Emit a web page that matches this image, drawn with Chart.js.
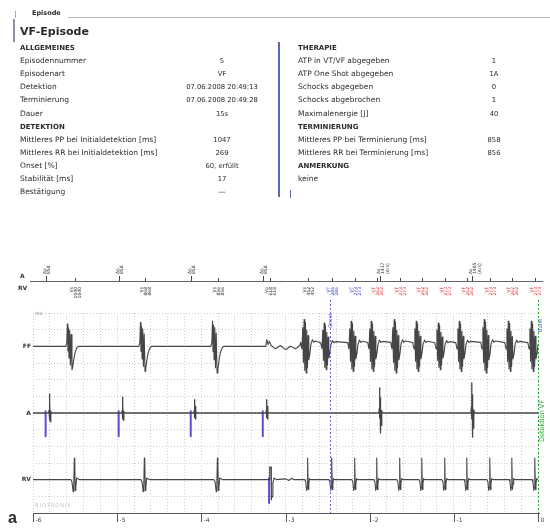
<!DOCTYPE html>
<html>
<head>
<meta charset="utf-8">
<script src="https://cdn.jsdelivr.net/npm/chart.js@4/dist/chart.umd.min.js"></script>
<style>
  body { margin: 0; width: 550px; height: 529px; background: #fff; position: relative; overflow: hidden;
         font-family: "DejaVu Sans", sans-serif; color: #2b2b2b; }
  #ekg { position: absolute; left: 0; top: 0; }
  .t { position: absolute; white-space: nowrap; line-height: 10px; font-size: 7.5px; }
  .b { font-weight: bold; font-size: 7px; }
  .w { text-align: center; width: 110px; font-size: 6.8px; }
  .strich { position: absolute; }
</style>
</head>
<body>
<canvas id="ekg" width="550" height="529"></canvas>

<div class="strich" style="left:15px;top:11px;width:1px;height:7px;background:#aaa"></div>
<div class="strich" style="left:68px;top:17px;width:482px;height:1px;background:#bbb"></div>
<div class="t b" style="left:32px;top:8px;font-size:6.5px">Episode</div>
<div class="strich" style="left:13px;top:19px;width:2px;height:23px;background:#8a90a8"></div>
<div class="t" style="left:20px;top:25px;font-size:11px;font-weight:bold;line-height:14px">VF-Episode</div>
<div class="strich" style="left:278px;top:42px;width:2px;height:155px;background:#5d68b0"></div>
<div class="strich" style="left:290px;top:190px;width:1px;height:8px;background:#5d68b0"></div>
<div id="tabelle"></div>

<script>
// Tabelle oben (Text aus dem Bericht)
const linkeZeilen = [
  ['ALLGEMEINES', null],
  ['Episodennummer', '5'],
  ['Episodenart', 'VF'],
  ['Detektion', '07.06.2008 20:49:13'],
  ['Terminierung', '07.06.2008 20:49:28'],
  ['Dauer', '15s'],
  ['DETEKTION', null],
  ['Mittleres PP bei Initialdetektion [ms]', '1047'],
  ['Mittleres RR bei Initialdetektion [ms]', '269'],
  ['Onset [%]', '60, erfüllt'],
  ['Stabilität [ms]', '17'],
  ['Bestätigung', '---']
];
const rechteZeilen = [
  ['THERAPIE', null],
  ['ATP in VT/VF abgegeben', '1'],
  ['ATP One Shot abgegeben', '1A'],
  ['Schocks abgegeben', '0'],
  ['Schocks abgebrochen', '1'],
  ['Maximalenergie [J]', '40'],
  ['TERMINIERUNG', null],
  ['Mittleres PP bei Terminierung [ms]', '858'],
  ['Mittleres RR bei Terminierung [ms]', '856'],
  ['ANMERKUNG', null],
  ['keine', '']
];

// Zeitachse (s), Ticks
const zeitTicks = [-6, -5, -4, -3, -2, -1, 0];

// Grundlinien der Kanäle (in Rasterkästchen)
const basisFF = -2, basisA = -6, basisRV = -10;

// FF-Kanal
const ffSinusZeiten = [-5.541, -4.673, -3.817];
const ffSinusAmp = [1.4, 1.5, 1.6];
const ffSinusForm = [[-0.07, 0], [-0.058, 0.15], [-0.05, 0.95], [-0.044, -0.2], [-0.038, 0.8], [-0.031, -0.5],
  [-0.023, 0.7], [-0.015, -0.8], [-0.006, 0.5], [0.004, -1.0], [0.012, -0.9], [0.026, -0.55], [0.042, -0.25],
  [0.06, -0.08], [0.08, 0]];
const ffUebergang = [[-3.235, 0], [-3.222, 0.4], [-3.207, 0.1], [-3.192, 0.3], [-3.17, 0.05], [-3.12, -0.15],
  [-3.06, 0.05], [-3.0, -0.2], [-2.94, 0.0], [-2.88, -0.15], [-2.83, 0.05]];
const ffVFZeiten = [-2.735, -2.497, -2.176, -1.938, -1.665, -1.403, -1.141, -0.892, -0.595, -0.309, -0.036];
const ffVFAmp = [1.6, 1.4, 1.5, 1.5, 1.6, 1.5, 1.4, 1.5, 1.6, 1.5, 1.5];
const ffVFForm = [[-0.085, 0.15], [-0.07, -0.1], [-0.06, 0.7], [-0.052, -0.6], [-0.044, 1.0], [-0.036, -0.9],
  [-0.028, 0.9], [-0.02, -1.0], [-0.012, 0.6], [-0.004, -0.8], [0.004, 0.4], [0.012, -0.5], [0.024, -0.3],
  [0.038, 0.1], [0.055, 0.25], [0.07, 0.15], [0.09, 0.2]];

// A-Kanal
const aKleinZeiten = [-5.803, -4.935, -4.078, -3.222];
const aKleinAmp = [1.15, 0.95, 0.8, 0.8];
const aKleinForm = [[-0.012, 0], [-0.006, 0.15], [-0.003, 1.0], [0.0, -0.35], [0.004, 0.5], [0.008, -0.45],
  [0.014, 0.1], [0.022, 0]];
const aGrossZeiten = [-1.879, -0.785];
const aGrossAmp = [1.5, 1.8];
const aGrossForm = [[-0.012, 0], [-0.006, 0.2], [-0.003, 1.0], [0.0, -0.2], [0.003, 0.6], [0.006, -0.8],
  [0.01, -0.35], [0.015, -0.5], [0.022, 0.1], [0.03, 0]];
const aStimZeiten = [-5.85, -4.982, -4.126, -3.27];

// RV-Kanal
const rvSinusZeiten = [-5.505, -4.673, -3.805];
const rvSinusForm = [[-0.045, 0], [-0.032, -0.1], [-0.018, -0.55], [-0.011, -0.3], [-0.004, 1.0], [0.001, 0.85],
  [0.007, -0.5], [0.014, -0.35], [0.024, 0.08], [0.036, 0.05], [0.055, 0]];
const rvStimZeiten = [-3.195];
const rvPaceForm = [[-3.192, 0], [-3.188, 0.75], [-3.172, 0.75], [-3.168, -1.2], [-3.16, -1.0], [-3.15, -0.2],
  [-3.135, 0.1], [-3.11, 0], [-3.0, 0.05], [-2.96, -0.05], [-2.93, 0.08], [-2.9, 0]];
const rvSchnellZeiten = [-2.735, -2.449, -2.176, -1.914, -1.641, -1.379, -1.106, -0.844, -0.571, -0.309, -0.036];
const rvSchnellForm = [[-0.035, 0], [-0.024, -0.1], [-0.014, -0.5], [-0.009, -0.35], [-0.004, 1.0], [0.0, 0.9],
  [0.005, -0.45], [0.012, -0.2], [0.02, 0.05], [0.034, 0]];
const rvAmp = 1.3;

// Markerkanal
const aMarkZeiten = [-5.85, -4.982, -4.126, -3.27, -1.879, -0.785];
const aMarkText = [['Ap', '858'], ['Ap', '858'], ['Ap', '858'], ['Ap', '858'], ['As', '1417', '(Ars)'], ['As', '1405', '(Ars)']];
const vMarkZeiten = [-5.505, -4.673, -3.805, -3.187, -2.735, -2.449, -2.176, -1.914, -1.641, -1.379, -1.106,
  -0.844, -0.571, -0.309, -0.036];
const vMarkTyp = ['Vs', 'Vs', 'Vs', 'Vp', 'Vs', 'VT', 'VT', 'VF', 'VF', 'VF', 'VF', 'VF', 'VF', 'VF', 'VF'];
const vMarkRR = ['1040', '868', '856', '618', '452', '286', '273', '262', '273', '262', '273', '262', '273', '262', '273'];

// Ereignisse
const ereignisZeiten = [-2.47, 0];
const ereignisText = ['Onset', 'Detektion VF'];

// Tabelle aufbauen
function tabelleZeichnen(zeilen, xLabel, xWert) {
  const box = document.getElementById('tabelle');
  zeilen.forEach((z, i) => {
    const y = 48 + i * 13.1;
    const l = document.createElement('div');
    l.className = z[1] === null ? 't b' : 't';
    l.style.left = xLabel + 'px';
    l.style.top = (y - 5) + 'px';
    l.textContent = z[0];
    box.appendChild(l);
    if (z[1]) {
      const w = document.createElement('div');
      w.className = 't w';
      w.style.left = (xWert - 55) + 'px';
      w.style.top = (y - 5) + 'px';
      w.textContent = z[1];
      box.appendChild(w);
    }
  });
}
tabelleZeichnen(linkeZeilen, 20, 222);
tabelleZeichnen(rechteZeilen, 298, 494);

// Spur aus Schlägen zusammensetzen
function spur(basis, schlaege) {
  const punkte = [{ x: -6, y: basis }];
  schlaege.forEach(s => {
    s.form.forEach(([dt, a]) => punkte.push({ x: s.t + dt, y: basis + a * s.amp }));
  });
  punkte.push({ x: 0.2, y: basis });
  return punkte;
}

const ffSchlaege = [
  ...ffSinusZeiten.map((t, i) => ({ t, amp: ffSinusAmp[i], form: ffSinusForm })),
  { t: 0, amp: 1, form: ffUebergang },
  ...ffVFZeiten.map((t, i) => ({ t, amp: ffVFAmp[i], form: ffVFForm }))
];
const aSchlaege = [
  ...aKleinZeiten.map((t, i) => ({ t, amp: aKleinAmp[i], form: aKleinForm })),
  ...aGrossZeiten.map((t, i) => ({ t, amp: aGrossAmp[i], form: aGrossForm }))
];
const rvSchlaege = [
  ...rvSinusZeiten.map(t => ({ t, amp: rvAmp, form: rvSinusForm })),
  { t: 0, amp: 1, form: rvPaceForm },
  ...rvSchnellZeiten.map(t => ({ t, amp: rvAmp, form: rvSchnellForm }))
];

function stimuli(zeiten, basis) {
  const p = [];
  zeiten.forEach(t => { p.push({ x: t, y: basis + 0.1 }, { x: t, y: basis - 1.4 }, { x: t, y: null }); });
  return p;
}

const spurFarbe = '#454545';
const datasets = [
  { data: spur(basisFF, ffSchlaege), borderColor: spurFarbe, borderWidth: 1.1 },
  { data: spur(basisA, aSchlaege), borderColor: spurFarbe, borderWidth: 1.3 },
  { data: spur(basisRV, rvSchlaege), borderColor: spurFarbe, borderWidth: 1.1 },
  { data: stimuli(aStimZeiten, basisA).concat(stimuli(rvStimZeiten, basisRV)), borderColor: '#5a4fd0', borderWidth: 2 }
];

function drehText(ctx, text, x, y, ausrichtung) {
  ctx.save();
  ctx.translate(x, y);
  ctx.rotate(-Math.PI / 2);
  ctx.textAlign = ausrichtung;
  ctx.textBaseline = 'middle';
  ctx.fillText(text, 0, 0);
  ctx.restore();
}

const zeichnung = {
  id: 'zeichnung',
  afterDraw(chart) {
    const ctx = chart.ctx;
    const xs = chart.scales.x, ys = chart.scales.y;
    const px = t => xs.getPixelForValue(t);
    const unten = ys.getPixelForValue(-12);
    const markY = 281;

    ctx.save();
    // Markerkanal
    ctx.strokeStyle = '#666';
    ctx.lineWidth = 1;
    ctx.beginPath(); ctx.moveTo(30, markY + 0.5); ctx.lineTo(543, markY + 0.5); ctx.stroke();
    ctx.fillStyle = '#333';
    ctx.font = 'bold 6px "DejaVu Sans"';
    ctx.textBaseline = 'middle';
    ctx.textAlign = 'left';
    ctx.fillText('A', 20, 276);
    ctx.fillText('RV', 18, 288);

    ctx.font = '4.5px "DejaVu Sans"';
    aMarkZeiten.forEach((t, i) => {
      const x = Math.round(px(t)) + 0.5;
      ctx.strokeStyle = '#444';
      ctx.beginPath(); ctx.moveTo(x, markY - 5); ctx.lineTo(x, markY); ctx.stroke();
      ctx.fillStyle = '#333';
      aMarkText[i].forEach((s, k) => drehText(ctx, s, x - 2 + k * 4.5, markY - 7, 'left'));
    });
    vMarkZeiten.forEach((t, i) => {
      const x = Math.round(px(t)) + 0.5;
      const farbe = vMarkTyp[i] === 'VT' ? '#3a3ad0' : vMarkTyp[i] === 'VF' ? '#e0383a' : '#333';
      ctx.strokeStyle = '#444';
      ctx.beginPath(); ctx.moveTo(x, markY - 3); ctx.lineTo(x, markY); ctx.stroke();
      ctx.fillStyle = farbe;
      [vMarkTyp[i], vMarkRR[i], vMarkRR[i]].forEach((s, k) => drehText(ctx, s, x - 4 + k * 4.2, markY + 6, 'right'));
    });

    // Kanalbeschriftung
    ctx.fillStyle = '#333';
    ctx.font = 'bold 6px "DejaVu Sans"';
    ctx.textAlign = 'right';
    ctx.textBaseline = 'middle';
    ctx.fillText('FF', 31, ys.getPixelForValue(basisFF));
    ctx.fillText('A', 31, ys.getPixelForValue(basisA));
    ctx.fillText('RV', 31, ys.getPixelForValue(basisRV));
    ctx.textAlign = 'left';
    ctx.font = '4.5px "DejaVu Sans"';
    ctx.fillStyle = '#888';
    ctx.fillText('mV', 35, 314);
    ctx.letterSpacing = '1px';
    ctx.font = '5px "DejaVu Sans"';
    ctx.fillStyle = '#c4c4c4';
    ctx.fillText('BIOTRONIK', 35, unten - 7);
    ctx.letterSpacing = '0px';

    // Ereignislinien
    ereignisZeiten.forEach((t, i) => {
      const x = Math.round(px(t)) + 0.5;
      const farbe = i === 0 ? '#6a6ae0' : '#2ea82e';
      ctx.strokeStyle = farbe;
      ctx.setLineDash([2, 2]);
      ctx.beginPath(); ctx.moveTo(x, 300); ctx.lineTo(x, unten); ctx.stroke();
      ctx.setLineDash([]);
    });
    ctx.fillStyle = '#4a4ad8';
    ctx.font = '5px "DejaVu Sans"';
    drehText(ctx, ereignisText[0], px(ereignisZeiten[0]) + 1, 328, 'left');
    drehText(ctx, 'Burst', px(ereignisZeiten[1]) + 3, 332, 'left');
    ctx.fillStyle = '#2ea82e';
    ctx.font = '6.5px "DejaVu Sans"';
    drehText(ctx, ereignisText[1], px(ereignisZeiten[1]) + 4, 442, 'left');

    // Zeitachse
    ctx.strokeStyle = '#555';
    ctx.lineWidth = 1;
    ctx.beginPath(); ctx.moveTo(px(-6), unten + 0.5); ctx.lineTo(px(0) + 2, unten + 0.5); ctx.stroke();
    ctx.fillStyle = '#444';
    ctx.font = '6px "DejaVu Sans"';
    ctx.textAlign = 'left';
    zeitTicks.forEach(t => {
      const x = Math.round(px(t)) + 0.5;
      ctx.beginPath(); ctx.moveTo(x, unten); ctx.lineTo(x, unten + 9); ctx.stroke();
      ctx.fillText(String(t), x + 2, unten + 7);
    });
    ctx.restore();
  }
};

new Chart(document.getElementById('ekg'), {
  type: 'line',
  data: { datasets },
  options: {
    responsive: false,
    animation: false,
    layout: { padding: { left: 33, right: 12, top: 313, bottom: 16 } },
    plugins: { legend: { display: false }, tooltip: { enabled: false } },
    elements: { point: { radius: 0 }, line: { tension: 0, borderJoinStyle: 'round' } },
    scales: {
      x: {
        type: 'linear', min: -6, max: 0,
        ticks: { display: false, stepSize: 0.2 },
        grid: { color: '#cdcdcd', drawTicks: false },
        border: { display: false, dash: [1, 2] },
        afterFit: s => { s.height = 0; }
      },
      y: {
        type: 'linear', min: -12, max: 0,
        ticks: { display: false, stepSize: 1 },
        grid: { color: '#cdcdcd', drawTicks: false },
        border: { display: false, dash: [1, 2] },
        afterFit: s => { s.width = 0; }
      }
    }
  },
  plugins: [zeichnung]
});
</script>
<div class="t" style="left:8px;top:509px;font-size:16px;font-weight:bold;line-height:18px;font-family:'Liberation Sans',sans-serif">a</div>
</body>
</html>
